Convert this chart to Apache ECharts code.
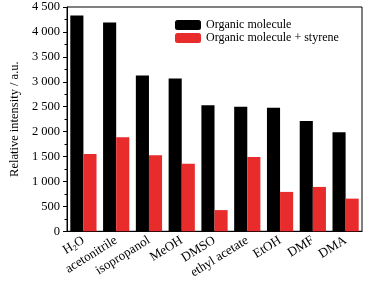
<!DOCTYPE html>
<html>
<head>
<meta charset="utf-8">
<script src="https://cdn.jsdelivr.net/npm/echarts@6/dist/echarts.min.js"></script>
<style>html,body{margin:0;padding:0;background:#fff}#c{width:373px;height:281px}</style>
</head>
<body>
<div id="c"></div>
<script>
const categories = ['H2O', 'acetonitrile', 'isopropanol', 'MeOH', 'DMSO', 'ethyl acetate', 'EtOH', 'DMF', 'DMA'];
const organic = [4330, 4190, 3125, 3065, 2530, 2500, 2480, 2215, 1985];
const organicStyrene = [1550, 1885, 1525, 1355, 425, 1490, 790, 890, 655];
const seriesNames = ['Organic molecule', 'Organic molecule + styrene'];
const yTitle = 'Relative intensity / a.u.';

const FONT = 'Liberation Serif';
const chart = echarts.init(document.getElementById('c'), null, {renderer: 'canvas'});
const fmtNum = v => {
  const s = String(v);
  return s.length > 3 ? s.slice(0, s.length - 3) + ' ' + s.slice(-3) : s;
};
chart.setOption({
  animation: false,
  backgroundColor: '#fff',
  grid: {left: 58, right: 11, top: 7, bottom: 48, show: true, borderColor: '#000', borderWidth: 1, backgroundColor: 'transparent'},
  legend: {
    orient: 'vertical', left: 170, top: 14, padding: 5, itemWidth: 26, itemHeight: 10, itemGap: 1,
    textStyle: {fontFamily: FONT, fontSize: 12, color: '#000'},
    data: seriesNames
  },
  xAxis: [{
    type: 'category', data: categories,
    axisLine: {lineStyle: {color: '#000', width: 1}},
    axisTick: {alignWithLabel: true, length: 4, lineStyle: {color: '#000'}},
    axisLabel: {
      interval: 0, rotate: 32, margin: 8, color: '#000', fontFamily: FONT, fontSize: 13,
      formatter: v => v === 'H2O' ? '{a|H}{s|2}{a|O}' : '{a|' + v + '}',
      rich: {
        a: {fontFamily: FONT, fontSize: 13, color: '#000'},
        s: {fontFamily: FONT, fontSize: 8, color: '#000', padding: [7, 0, 0, 0]}
      }
    }
  }, {
    type: 'category', data: categories, position: 'bottom',
    axisLine: {show: false},
    axisTick: {length: 3, lineStyle: {color: '#000'}},
    axisLabel: {show: false}
  }],
  yAxis: {
    type: 'value', min: 0, max: 4500, interval: 500,
    name: yTitle, nameLocation: 'middle', nameGap: 44,
    nameTextStyle: {fontFamily: FONT, fontSize: 12.5, color: '#000'},
    axisLine: {show: true, lineStyle: {color: '#000', width: 1}},
    axisTick: {show: true, length: 4, lineStyle: {color: '#000'}},
    minorTick: {show: true, splitNumber: 2, length: 2.5, lineStyle: {color: '#000'}},
    splitLine: {show: false},
    axisLabel: {color: '#000', fontFamily: FONT, fontSize: 12.5, margin: 7, formatter: fmtNum}
  },
  series: [{
    name: seriesNames[0], type: 'bar', data: organic, xAxisIndex: 0,
    barGap: '0%', barCategoryGap: '20%', itemStyle: {color: '#000'}
  }, {
    name: seriesNames[1], type: 'bar', data: organicStyrene, xAxisIndex: 0,
    barGap: '0%', barCategoryGap: '20%', itemStyle: {color: '#e82b2b'}
  }]
});
</script>
</body>
</html>
